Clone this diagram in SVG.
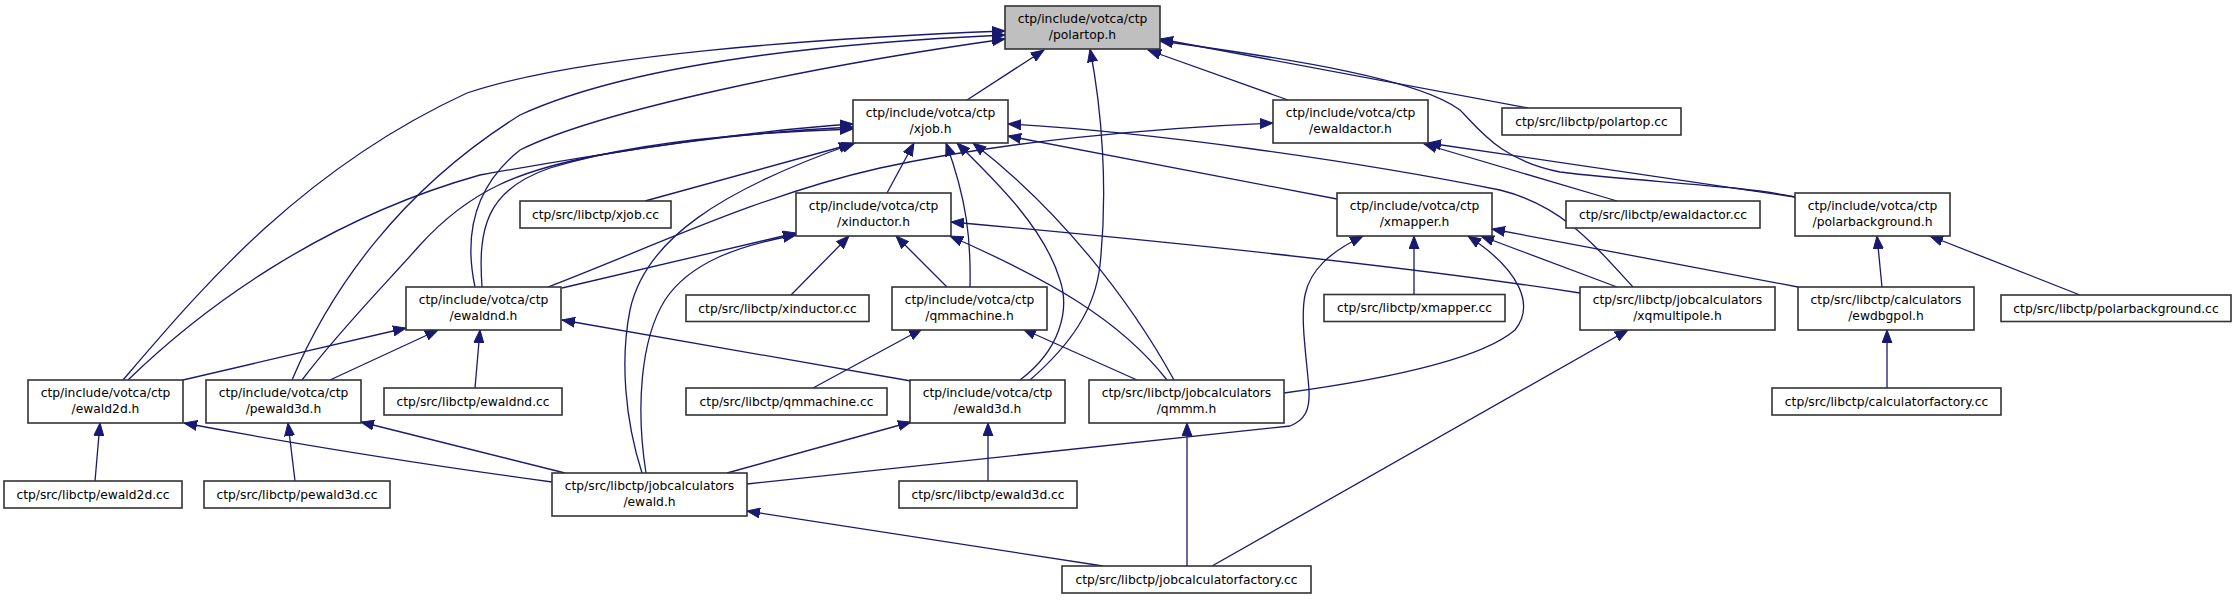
<svg xmlns="http://www.w3.org/2000/svg" width="2236" height="600" viewBox="0 0 2236 600">
<defs>
<style>
.node rect{fill:#ffffff;stroke:#333333;stroke-width:1.6}
.node rect.root{fill:#bfbfbf}
.node text{font-family:"DejaVu Sans","Liberation Sans",sans-serif;font-size:12.3px;fill:#000000;text-anchor:middle}
.edges path{fill:none;stroke:#191970;stroke-width:1.3;marker-end:url(#ah)}
</style>
<marker id="ah" markerUnits="userSpaceOnUse" markerWidth="14" markerHeight="11" refX="13" refY="5.5" orient="auto">
<path d="M0,0.5 L13,5.5 L0,10.5 Z" fill="#191970" stroke="#191970" stroke-width="1"/>
</marker>
</defs>
<rect x="0" y="0" width="2236" height="600" fill="#ffffff"/>
<g class="edges">
<path d="M967,100 L1044,50"/>
<path d="M1288,100 L1148,50"/>
<path d="M1030,380 C1070,345 1095,310 1100,265 C1108,190 1102,110 1090,49"/>
<path d="M475,287 C465,240 470,190 520,150 C600,110 820,65 1005,39"/>
<path d="M123,380 C200,290 300,170 467,93 C580,55 820,38 1005,31"/>
<path d="M292,380 C330,290 400,190 520,115 C640,60 850,42 1005,35"/>
<path d="M128,380 C200,310 320,220 480,175 C620,150 760,130 853,124"/>
<path d="M302,380 C340,330 380,290 420,245 C470,190 520,170 600,155 C700,138 790,130 853,127"/>
<path d="M482,287 C478,230 485,190 550,168 C640,140 760,132 853,129"/>
<path d="M645,201 L852,144"/>
<path d="M642,473 C625,420 620,360 630,310 C645,240 720,190 855,143"/>
<path d="M646,473 C636,410 640,340 665,300 C690,262 740,245 796,235"/>
<path d="M548,287 C650,248 760,195 880,168 C1000,142 1150,128 1273,123"/>
<path d="M562,288 L796,233"/>
<path d="M791,295 L849,236"/>
<path d="M947,287 L896,236"/>
<path d="M1167,380 C1120,320 1050,280 950,236"/>
<path d="M1580,293 C1400,265 1150,240 951,222"/>
<path d="M887,193 L914,143"/>
<path d="M970,287 C971,240 967,200 946,143"/>
<path d="M1020,380 C1060,350 1070,310 1060,280 C1045,230 1000,185 957,143"/>
<path d="M1174,380 C1130,300 1060,210 973,143"/>
<path d="M1633,287 C1590,240 1560,205 1500,190 C1350,160 1150,132 1008,124"/>
<path d="M1337,199 L1008,136"/>
<path d="M1795,197 C1740,185 1640,182 1560,172 C1500,160 1480,130 1460,110 C1420,80 1300,60 1160,41"/>
<path d="M1528,108 L1160,39"/>
<path d="M1795,197 L1428,143"/>
<path d="M1617,201 L1424,144"/>
<path d="M747,484 L1290,426 C1305,420 1310,410 1309,390 C1307,360 1300,320 1305,295 C1310,270 1330,252 1363,236"/>
<path d="M1414,294 L1414,236"/>
<path d="M1284,393 C1380,380 1480,360 1515,330 C1535,305 1520,270 1468,236"/>
<path d="M1617,287 L1481,236"/>
<path d="M1798,287 L1492,229"/>
<path d="M1882,287 L1877,236"/>
<path d="M2080,295 L1930,236"/>
<path d="M1887,388 L1887,330"/>
<path d="M1212,566 L1628,330"/>
<path d="M1187,566 L1187,423"/>
<path d="M1103,566 L747,511"/>
<path d="M1137,380 L1023,329"/>
<path d="M813,388 L922,329"/>
<path d="M911,381 L562,320"/>
<path d="M988,481 L988,423"/>
<path d="M727,473 L911,422"/>
<path d="M552,482 C450,468 300,445 184,423"/>
<path d="M565,473 L361,422"/>
<path d="M95,481 L100,423"/>
<path d="M295,481 L288,423"/>
<path d="M183,380 L406,328"/>
<path d="M330,380 L438,330"/>
<path d="M475,388 L480,330"/>
</g>
<g id="polartop_h" class="node"><rect class="root" x="1005" y="6" width="155" height="43"/><text x="1082.5" y="23.3">ctp/include/votca/ctp</text><text x="1082.5" y="39.3">/polartop.h</text></g>
<g id="xjob_h" class="node"><rect x="853" y="100" width="155" height="43"/><text x="930.5" y="117.3">ctp/include/votca/ctp</text><text x="930.5" y="133.3">/xjob.h</text></g>
<g id="ewaldactor_h" class="node"><rect x="1273" y="100" width="155" height="43"/><text x="1350.5" y="117.3">ctp/include/votca/ctp</text><text x="1350.5" y="133.3">/ewaldactor.h</text></g>
<g id="polartop_cc" class="node"><rect x="1502" y="108" width="179" height="27"/><text x="1591.5" y="125.7">ctp/src/libctp/polartop.cc</text></g>
<g id="xjob_cc" class="node"><rect x="520" y="201" width="151" height="27"/><text x="595.5" y="218.7">ctp/src/libctp/xjob.cc</text></g>
<g id="xinductor_h" class="node"><rect x="796" y="193" width="155" height="43"/><text x="873.5" y="210.3">ctp/include/votca/ctp</text><text x="873.5" y="226.3">/xinductor.h</text></g>
<g id="xmapper_h" class="node"><rect x="1337" y="193" width="155" height="43"/><text x="1414.5" y="210.3">ctp/include/votca/ctp</text><text x="1414.5" y="226.3">/xmapper.h</text></g>
<g id="ewaldactor_cc" class="node"><rect x="1566" y="201" width="194" height="27"/><text x="1663" y="218.7">ctp/src/libctp/ewaldactor.cc</text></g>
<g id="polarbackground_h" class="node"><rect x="1795" y="193" width="155" height="43"/><text x="1872.5" y="210.3">ctp/include/votca/ctp</text><text x="1872.5" y="226.3">/polarbackground.h</text></g>
<g id="ewaldnd_h" class="node"><rect x="406" y="287" width="155" height="43"/><text x="483.5" y="304.3">ctp/include/votca/ctp</text><text x="483.5" y="320.3">/ewaldnd.h</text></g>
<g id="xinductor_cc" class="node"><rect x="686" y="295" width="183" height="26.5"/><text x="777.5" y="312.5">ctp/src/libctp/xinductor.cc</text></g>
<g id="qmmachine_h" class="node"><rect x="892" y="287" width="155" height="43"/><text x="969.5" y="304.3">ctp/include/votca/ctp</text><text x="969.5" y="320.3">/qmmachine.h</text></g>
<g id="xmapper_cc" class="node"><rect x="1324" y="294.5" width="181" height="27"/><text x="1414.5" y="312.2">ctp/src/libctp/xmapper.cc</text></g>
<g id="xqmultipole_h" class="node"><rect x="1580" y="287" width="195" height="43"/><text x="1677.5" y="304.3">ctp/src/libctp/jobcalculators</text><text x="1677.5" y="320.3">/xqmultipole.h</text></g>
<g id="ewdbgpol_h" class="node"><rect x="1798" y="287" width="176" height="43"/><text x="1886" y="304.3">ctp/src/libctp/calculators</text><text x="1886" y="320.3">/ewdbgpol.h</text></g>
<g id="polarbackground_cc" class="node"><rect x="2001" y="295" width="230" height="26.5"/><text x="2116" y="312.5">ctp/src/libctp/polarbackground.cc</text></g>
<g id="ewald2d_h" class="node"><rect x="28" y="380" width="155" height="43"/><text x="105.5" y="397.3">ctp/include/votca/ctp</text><text x="105.5" y="413.3">/ewald2d.h</text></g>
<g id="pewald3d_h" class="node"><rect x="206" y="380" width="155" height="43"/><text x="283.5" y="397.3">ctp/include/votca/ctp</text><text x="283.5" y="413.3">/pewald3d.h</text></g>
<g id="ewaldnd_cc" class="node"><rect x="384" y="388" width="178" height="27"/><text x="473" y="405.5">ctp/src/libctp/ewaldnd.cc</text></g>
<g id="qmmachine_cc" class="node"><rect x="686" y="388" width="201" height="27"/><text x="786.5" y="405.5">ctp/src/libctp/qmmachine.cc</text></g>
<g id="ewald3d_h" class="node"><rect x="910" y="380" width="155" height="43"/><text x="987.5" y="397.3">ctp/include/votca/ctp</text><text x="987.5" y="413.3">/ewald3d.h</text></g>
<g id="qmmm_h" class="node"><rect x="1089" y="380" width="195" height="43"/><text x="1186.5" y="397.3">ctp/src/libctp/jobcalculators</text><text x="1186.5" y="413.3">/qmmm.h</text></g>
<g id="calculatorfactory_cc" class="node"><rect x="1772" y="388" width="229" height="27"/><text x="1886.5" y="405.5">ctp/src/libctp/calculatorfactory.cc</text></g>
<g id="ewald2d_cc" class="node"><rect x="4" y="481" width="178" height="27"/><text x="93" y="498.5">ctp/src/libctp/ewald2d.cc</text></g>
<g id="pewald3d_cc" class="node"><rect x="204" y="481" width="186" height="27"/><text x="297" y="498.5">ctp/src/libctp/pewald3d.cc</text></g>
<g id="ewald_h" class="node"><rect x="552" y="473" width="195" height="43"/><text x="649.5" y="490.3">ctp/src/libctp/jobcalculators</text><text x="649.5" y="506.3">/ewald.h</text></g>
<g id="ewald3d_cc" class="node"><rect x="899" y="481" width="178" height="27"/><text x="988" y="498.5">ctp/src/libctp/ewald3d.cc</text></g>
<g id="jobcalculatorfactory_cc" class="node"><rect x="1062" y="566" width="249" height="27"/><text x="1186.5" y="583.5">ctp/src/libctp/jobcalculatorfactory.cc</text></g>
</svg>
